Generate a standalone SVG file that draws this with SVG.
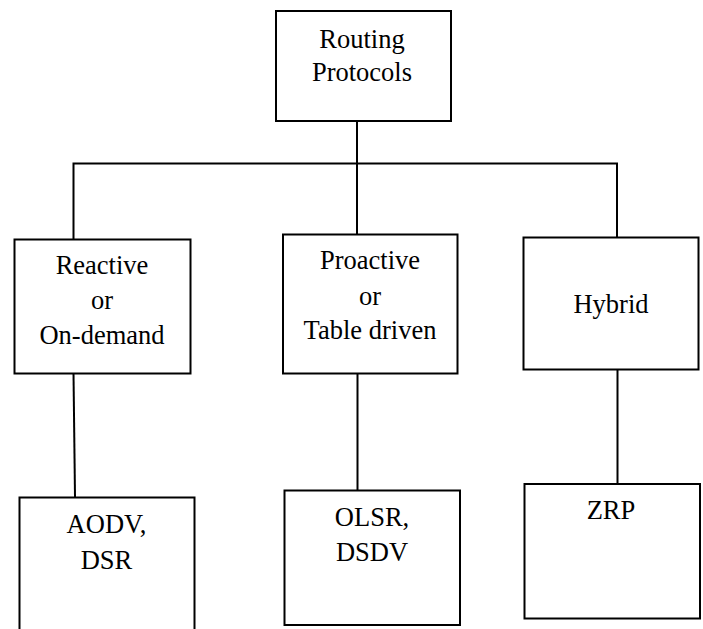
<svg xmlns="http://www.w3.org/2000/svg" width="703" height="629" viewBox="0 0 703 629">
<style>
.box{fill:#fff;stroke:#000;stroke-width:2}
.ln{fill:none;stroke:#000;stroke-width:2}
</style>
<rect width="703" height="629" fill="#fff"/>
<g id="connectors">
<line class="ln" x1="357" y1="121" x2="357" y2="234"/>
<polyline class="ln" points="73.5,239 73.5,163.5 617,163.5 617,237"/>
<line class="ln" x1="73.5" y1="373" x2="75" y2="497"/>
<line class="ln" x1="357.5" y1="373" x2="357.5" y2="490"/>
<line class="ln" x1="617.5" y1="369" x2="617.5" y2="484"/>
</g>
<g font-family="Liberation Serif, Times New Roman, serif" font-size="26.5" fill="#000" text-anchor="middle">
<g id="routing">
<rect class="box" x="276" y="11" width="175" height="110"/>
<text x="362" y="48">Routing</text>
<text x="362" y="81">Protocols</text>
</g>
<g id="reactive">
<rect class="box" x="14.5" y="239.5" width="176" height="134"/>
<text x="102" y="274">Reactive</text>
<text x="102" y="309">or</text>
<text x="102" y="344">On-demand</text>
</g>
<g id="proactive">
<rect class="box" x="283" y="234.5" width="174.5" height="139"/>
<text x="370" y="269">Proactive</text>
<text x="370" y="305">or</text>
<text x="370" y="339">Table driven</text>
</g>
<g id="hybrid">
<rect class="box" x="523.5" y="237.5" width="175" height="132"/>
<text x="611" y="313">Hybrid</text>
</g>
<g id="aodv">
<rect class="box" x="19.5" y="497.5" width="175" height="140"/>
<text x="106.5" y="533">AODV,</text>
<text x="106.5" y="569">DSR</text>
</g>
<g id="olsr">
<rect class="box" x="284.5" y="490.5" width="175.5" height="134.5"/>
<text x="372" y="525.5">OLSR,</text>
<text x="372" y="561">DSDV</text>
</g>
<g id="zrp">
<rect class="box" x="524.5" y="484" width="175.5" height="134.5"/>
<text x="611" y="519">ZRP</text>
</g>
</g>
</svg>
